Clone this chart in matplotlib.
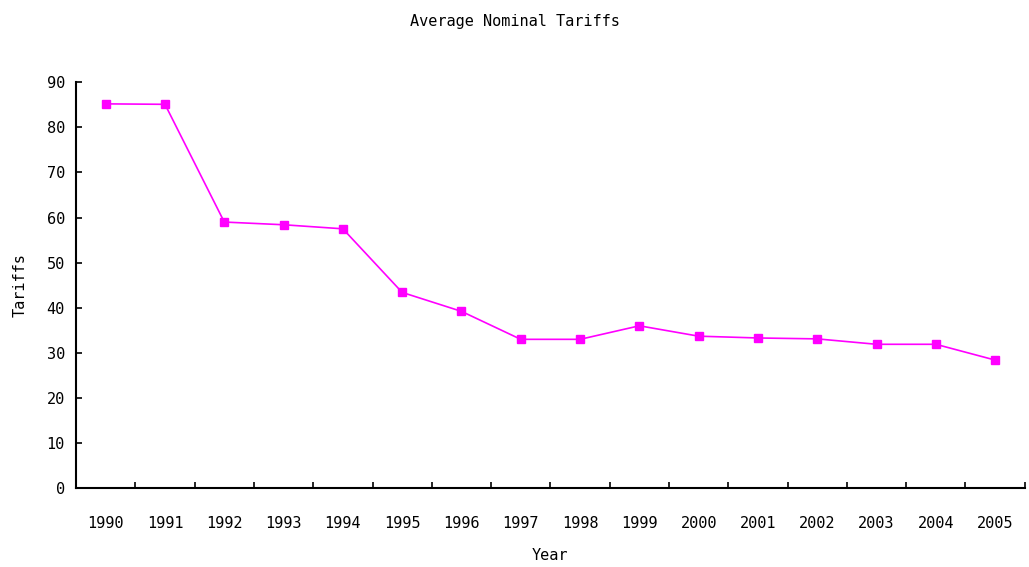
import matplotlib.pyplot as plt
import numpy as np

years = ['1990', '1991', '1992', '1993', '1994', '1995', '1996', '1997',
         '1998', '1999', '2000', '2001', '2002', '2003', '2004', '2005']
tariffs = [85.2, 85.1, 59.0, 58.4, 57.5, 43.4, 39.2, 33.0,
           33.0, 36.0, 33.7, 33.3, 33.1, 31.9, 31.9, 28.4]

plt.rcParams['font.family'] = 'DejaVu Sans Mono'

fig = plt.figure(figsize=(10.29, 5.67), dpi=100)
ax = fig.add_axes([0.0739, 0.139, 0.922, 0.716])

x = np.arange(len(years))
ax.plot(x, tariffs, color='#ff00ff', linewidth=1.2, marker='s', markersize=6,
        clip_on=False)

ax.set_xlim(-0.5, len(years) - 0.5)
ax.set_ylim(0, 90)
ax.set_yticks(range(0, 91, 10))
ax.set_xticks(x)
ax.set_xticklabels(years, fontsize=11)
# tick marks sit between categories, plus one at the right end
ax.set_xticks(x + 0.5, minor=True)
ax.tick_params(axis='x', which='major', length=0, pad=20)
ax.tick_params(axis='x', which='minor', direction='in', length=4, width=1.2)
ax.tick_params(axis='y', direction='in', length=4, width=1.2, labelsize=11, pad=8)

for s in ['top', 'right']:
    ax.spines[s].set_visible(False)
for s in ['left', 'bottom']:
    ax.spines[s].set_linewidth(1.5)

ax.set_xlabel('Year', fontsize=11, labelpad=12)
ax.set_ylabel('Tariffs', fontsize=11, labelpad=14)
fig.suptitle('Average Nominal Tariffs', fontsize=11, y=0.975)

fig.savefig('out.png', dpi=100)
